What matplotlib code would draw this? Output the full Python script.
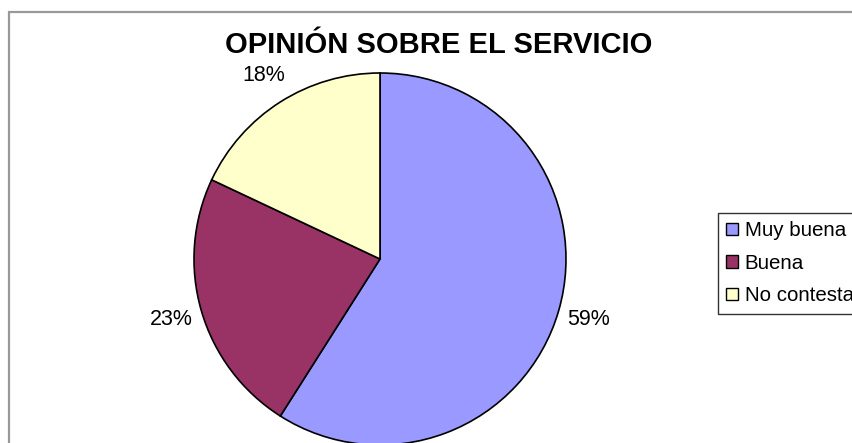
import matplotlib.pyplot as plt
from matplotlib.patches import Rectangle

categories = ["Muy buena", "Buena", "No contesta"]
percentages = [59, 23, 18]
colors = ["#9999FF", "#993366", "#FFFFCC"]

plt.rcParams["font.family"] = ["Liberation Sans", "DejaVu Sans"]

W, H = 853, 443
fig = plt.figure(figsize=(W / 100, H / 100), dpi=100)

# grey frame of the chart area (right and bottom edges are cut off)
fig.patches.append(Rectangle((9 / W, -0.2), 2.0, 1.2 - 12 / H,
                             transform=fig.transFigure, fill=False,
                             edgecolor="#999999", linewidth=1.6))

# pie centred at (380, 259) px, radius 186 px
cx, cy, r = 380, 259, 186
ax = fig.add_axes([(cx - r) / W, (H - cy - r) / H, 2 * r / W, 2 * r / H])
wedges, texts, autotexts = ax.pie(
    percentages, colors=colors, startangle=90, counterclock=False,
    autopct="%1.0f%%", pctdistance=1.17,
    wedgeprops={"edgecolor": "black", "linewidth": 1.2},
    textprops={"fontsize": 15.5, "color": "black"},
)
ax.set_xlim(-1, 1)
ax.set_ylim(-1, 1)
ax.set_aspect("equal")
ax.axis("off")

fig.text(439 / W, 1 - 53 / H, "OPINIÓN SOBRE EL SERVICIO", ha="center",
         va="baseline", fontsize=21, fontweight="bold")

leg = fig.legend(wedges, categories, loc="upper left",
                 bbox_to_anchor=(718 / W, 1 - 213 / H), borderaxespad=0,
                 fontsize=14.8, frameon=True, fancybox=False,
                 handlelength=0.57, handleheight=0.57, handletextpad=0.32,
                 borderpad=0.4, labelspacing=0.66)
leg.get_frame().set_edgecolor("black")
leg.get_frame().set_linewidth(1.0)
for h in leg.legend_handles:
    h.set_edgecolor("black")
    h.set_linewidth(1.0)

fig.savefig("out.png", dpi=100)
